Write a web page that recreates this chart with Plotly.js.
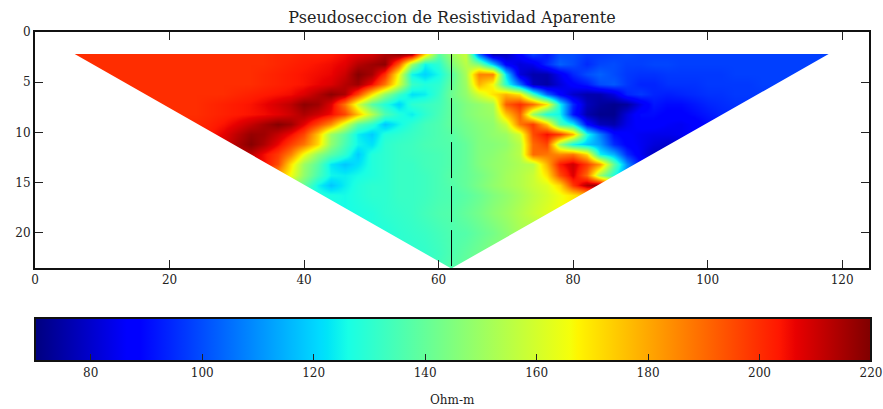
<!DOCTYPE html>
<html><head><meta charset="utf-8">
<script src="https://cdn.plot.ly/plotly-3.0.1.min.js"></script>
<style>html,body{margin:0;padding:0;background:#fff}#c{width:883px;height:409px}</style>
</head><body><div id="c"></div>
<script>
// Horizontal sample positions (m) and pseudo-depth levels
const xStep = 2, xFirst = 6, xLast = 118;
const depths = [2.2,3.2,4.2,5.2,6.2,7.2,8.2,9.2,10.2,11.2,12.2,13.2,14.2,15.2,16.2,18,20,22,23.5];
// x of the first reading on each depth level
const rowStart = [6,8,10,12,16,18,20,24,26,28,32,34,36,38,42,46,52,56,60];
// Apparent resistivity readings (Ohm-m), one list per depth level
const r01 = [200,200,200,200,200,200,200,200,200,200, 200,200,200,200,200,201,201,202,202,203, 205,207,209,214,218,214,172,138,150,158, 105,76,78,88,98,92,100,100,97,97, 98,99,98,98,98,98,98,98,98,98, 98,98,98,98,98,98,98];
const r02 = [200,200,200,200,200,200,200,200,200,200, 200,200,200,200,201,202,203,204,205,207, 213,216,218,192,150,125,130,145,155,145, 118,88,82,84,95,103,100,95,99,100, 98,98,99,99,98,98,98,98,98,98, 98,98,98,98,98];
const r03 = [200,200,200,200,200,200,200,200,200,200, 200,200,201,202,203,204,205,206,210,219, 215,200,165,125,120,126,138,152,186,186, 122,82,76,76,85,94,100,103,100,97, 96,96,97,97,97,97,97,98,98,98, 98,98,98];
const r04 = [200,200,200,200,200,200,200,200,200,200, 200,201,202,203,204,206,208,213,216,205, 188,160,132,128,130,140,150,178,166,130, 105,78,75,82,88,92,100,102,97,94, 94,96,96,96,97,97,97,97,98,98, 98];
const r05 = [200,200,200,200,200,200,200,201,202,203, 204,205,208,213,218,214,196,170,148,132, 122,124,132,142,148,160,170,178,170,135, 104,88,80,76,76,82,94,97,94,93, 94,95,96,96,97,97,97];
const r06 = [200,200,200,200,201,202,203,204,206,209, 212,218,216,208,188,160,138,128,120,130, 132,134,140,145,148,152,192,200,190,170, 125,95,78,74,72,74,84,92,90,90, 92,94,95,96,96];
const r07 = [200,200,200,201,202,203,204,205,207,210, 214,210,205,196,176,155,136,128,124,130, 135,140,145,148,150,175,192,150,128,125, 92,76,72,72,82,90,90,88,88,90, 92,94,95];
const r08 = [201,202,204,207,211,215,219,216,207,196, 184,160,138,130,118,125,130,134,136,140, 143,146,148,158,188,198,175,135,125,90, 78,76,84,88,88,86,85,87,90];
const r09 = [203,207,212,217,216,211,205,196,175,150, 138,124,119,128,130,132,134,136,138,142, 145,148,150,160,195,205,198,178,128,108, 90,87,85,84,84,85,87];
const r10 = [208,214,219,214,206,197,188,172,148,135, 125,122,130,132,133,135,136,137,140,145, 146,148,155,190,196,150,126,118,112,95, 88,85,82,80,80];
const r11 = [212,205,198,186,165,148,138,130,119,128, 130,132,133,134,135,137,140,145,147,150, 155,190,188,185,188,172,125,115,95,85, 78];
const r12 = [205,195,170,150,138,123,118,122,128,130, 132,132,134,135,137,140,145,148,150,153, 155,178,203,210,198,182,140,110,90];
const r13 = [180,165,148,135,125,124,126,128,130,132, 132,133,135,138,140,143,147,151,154,158, 170,195,208,190,150,128,110];
const r14 = [150,140,125,118,124,128,130,130,132,132, 133,135,137,140,144,148,151,154,158,162, 172,198,214,218,190];
const r15 = [128,127,126,128,130,130,132,132,133,135, 136,138,141,145,148,152,156,160,165,170, 175];
const r16 = [126,127,128,130,131,132,134,136,137,140, 143,147,150,154,158,162,166];
const r17 = [128,130,131,132,134,136,137,140,143,147,152];
const r18 = [130,131,133,136,139,142,146];
const r19 = [134,137,140];
const readings = [r01,r02,r03,r04,r05,r06,r07,r08,r09,r10,r11,r12,r13,r14,r15,r16,r17,r18,r19];
// Survey geometry: the pseudosection's triangular coverage
const surveyTop = 2.2, surveyLeft = 5.9, surveyRight = 118, apexX = 61.9, apexY = 23.55;
const centerX = 61.93, centerBottom = 23.5;
const xMax = 124, yMax = 23.5;
const cbarTicks = [80,100,120,140,160,180,200,220];
const xTicks = [0,20,40,60,80,100,120];
const yTicks = [0,5,10,15,20];

const xs = [];
for (let x = xFirst; x <= xLast; x += xStep) xs.push(x);
// Each level is carried out to the full grid width with its end readings; the part outside the coverage is hidden.
const z = readings.map((r, k) => {
  const lead = (rowStart[k] - xFirst) / xStep;
  const row = [];
  for (let i = 0; i < xs.length; i++) {
    const j = Math.max(0, Math.min(r.length - 1, i - lead));
    row.push(r[j]);
  }
  return row;
});
const jet = [[0,'#00007f'],[0.11,'#0000ff'],[0.125,'#0000ff'],[0.34,'#00dbff'],[0.35,'#00e5f8'],[0.375,'#18ffe5'],
 [0.64,'#f5ff0a'],[0.65,'#fff500'],[0.66,'#ffeb00'],[0.89,'#ff1700'],[0.91,'#e80000'],[1,'#7f0000']];
const serif = '"DejaVu Serif", serif';
const heat = {
  type:'heatmap', x:xs, y:depths, z:z, zmin:70, zmax:220, zsmooth:'best', colorscale:jet, hoverinfo:'skip',
  colorbar:{orientation:'h', thickness:43, thicknessmode:'pixels', len:836, lenmode:'pixels',
    x:0, xanchor:'left', xref:'paper', y:(409-318)/409, yref:'container', yanchor:'top', xpad:0, ypad:0,
    outlinewidth:2, outlinecolor:'#111', tickvals:cbarTicks, ticks:'inside', ticklen:8, tickwidth:1, tickcolor:'#222',
    tickfont:{family:serif,size:12,color:'#222'}}
};
const mask = {
  type:'scatter', mode:'lines', fill:'toself', fillcolor:'#fff', line:{width:0}, hoverinfo:'skip', showlegend:false,
  x:[0,xMax,xMax,0,0,null,0,surveyLeft,apexX,surveyRight,xMax,xMax,0,0],
  y:[0,0,surveyTop,surveyTop,0,null,surveyTop,surveyTop,apexY,surveyTop,surveyTop,yMax+1,yMax+1,surveyTop]
};
const center = {type:'scatter', mode:'lines', x:[centerX,centerX], y:[surveyTop,centerBottom],
  line:{color:'#000',width:1,dash:'36px,8px'}, hoverinfo:'skip', showlegend:false};
const axisBase = {showgrid:false, zeroline:false, showline:true, mirror:'allticks', linewidth:2, linecolor:'#111',
  ticks:'inside', ticklen:8, tickwidth:1, tickcolor:'#222', tickfont:{family:serif,size:12,color:'#222'}};
Plotly.newPlot('c',[heat,mask,center],{
  width:883, height:409, paper_bgcolor:'#fff', plot_bgcolor:'#fff', showlegend:false,
  margin:{l:34.5,r:13.5,t:32,b:141,autoexpand:false},
  title:{text:'Pseudoseccion de Resistividad Aparente', x:0.5, xref:'paper', xanchor:'center', y:(409-17)/409, yref:'container', yanchor:'middle',
    font:{family:serif,size:16,color:'#222'}},
  xaxis:Object.assign({},axisBase,{range:[0,xMax],tickvals:xTicks}),
  yaxis:Object.assign({},axisBase,{range:[yMax,0],tickvals:yTicks}),
  annotations:[{text:'Ohm-m', xref:'paper', yref:'paper', x:0.5, y:(268-400)/236, xanchor:'center', yanchor:'middle', showarrow:false,
    font:{family:serif,size:12,color:'#222'}}]
},{staticPlot:true,displayModeBar:false}).then(gd => {
  // The colour bar's tick labels sit a little lower in the reference.
  gd.querySelectorAll('.cbaxis .xtick').forEach(t => t.setAttribute('transform','translate(0,5)'));
});
</script></body></html>
